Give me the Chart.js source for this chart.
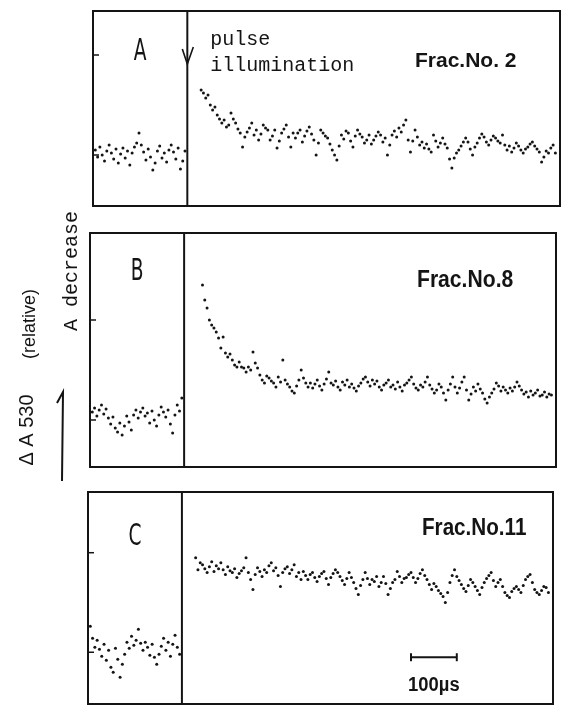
<!DOCTYPE html>
<html><head><meta charset="utf-8">
<script src="https://cdn.jsdelivr.net/npm/chart.js@4.4.0/dist/chart.umd.min.js"></script>
<style>
html,body{margin:0;padding:0;background:#fff;width:569px;height:710px;overflow:hidden;position:relative}
canvas.p{position:absolute;left:0}
</style></head><body>
<canvas id="cA" class="p" width="569" height="209" style="top:0px"></canvas>
<canvas id="cB" class="p" width="569" height="277" style="top:209px"></canvas>
<canvas id="cC" class="p" width="569" height="224" style="top:486px"></canvas>
<script>
// ---- data (time in µs, ΔA in relative units; 0 = pre-pulse level) ----
const SAMPLE_US = 5;
const TIME_MIN_US = -205, TIME_MAX_US = 810;
const preStartUs = -200;
const postStartA = 30, postStartB = 40, postStartC = 30;

const preA = [.05,-.02,.08,.00,-.06,.04,.10,.02,-.04,.06,-.08,.01,.07,-.03,.04,-.10,.02,.08,.12,.22,.10,.03,-.05,.06,-.02,-.15,-.08,.04,.09,-.03,.02,-.07,.05,.10,.03,-.04,.07,-.14,-.06,.04];
const postA = [.65,.62,.57,.60,.50,.45,.48,.40,.36,.32,
 .35,.28,.30,.42,.36,.32,.26,.22,.08,.18,
 .23,.27,.32,.20,.25,.15,.21,.30,.27,.25,
 .15,.19,.25,.07,.14,.22,.26,.30,.18,.08,
 .22,.17,.22,.25,.13,.19,.24,.28,.21,.15,
 .00,.12,.25,.22,.19,.17,.11,.05,.00,-.05,
 .09,.20,.16,.24,.22,.14,.08,.19,.25,.21,
 .18,.12,.15,.20,.11,.15,.19,.23,.20,.13,
 .17,.00,.10,.20,.24,.18,.27,.23,.30,.35,
 .15,.03,.14,.25,.18,.10,.13,.07,.11,.06,
 .03,.20,.14,.08,.12,.17,.11,.07,-.04,-.13,
 -.03,.02,.05,.09,.13,.17,.13,.06,.00,.08,
 .12,.17,.21,.18,.13,.10,.15,.19,.17,.14,
 .12,.20,.10,.05,.09,.03,.07,.12,.09,.05,
 .02,.06,.08,.11,.13,.09,.06,.03,-.07,-.02,
 .04,.02,.07,.10,.02];

const preB = [.08,.12,.04,.10,.15,.06,.11,.02,-.04,.03,-.08,-.12,-.03,-.15,-.06,.04,-.02,-.10,.05,.10,.02,.08,.12,.04,.07,-.03,.09,.00,-.06,.05,.13,.08,.03,.10,-.04,-.13,.05,.15,.09,.22];
const postB = [1.35,1.20,1.12,1.00,.95,.92,.88,.82,.72,.83,
 .67,.63,.66,.60,.55,.53,.58,.53,.52,.48,
 .53,.50,.68,.57,.52,.45,.40,.37,.44,.42,
 .39,.37,.33,.43,.38,.60,.40,.36,.33,.29,
 .27,.34,.40,.50,.42,.37,.33,.37,.32,.36,
 .40,.34,.30,.36,.41,.48,.37,.35,.39,.33,
 .30,.38,.35,.40,.33,.36,.32,.29,.34,.37,
 .41,.43,.38,.34,.40,.36,.39,.33,.30,.35,
 .37,.40,.33,.35,.31,.38,.33,.29,.35,.37,
 .40,.43,.36,.32,.30,.35,.33,.38,.43,.35,
 .31,.27,.30,.36,.33,.27,.20,.30,.36,.43,
 .33,.27,.32,.38,.43,.30,.20,.26,.33,.29,
 .36,.31,.27,.21,.17,.23,.27,.31,.37,.34,
 .29,.33,.30,.27,.32,.29,.33,.38,.34,.30,
 .26,.28,.23,.29,.25,.27,.30,.24,.25,.28,
 .23,.26,.25];

const preC = [.26,.14,.05,.12,.03,-.04,.08,-.08,.02,-.15,-.20,.04,-.07,-.25,-.12,-.02,.10,.04,.16,.07,.12,.23,.09,.02,.10,.05,-.03,.08,-.05,-.12,-.02,.06,.14,.02,.10,-.04,.08,.17,.05,-.02];
const postC = [.95,.83,.90,.88,.84,.80,.86,.91,.81,.87,
 .84,.90,.83,.78,.86,.82,.80,.84,.75,.79,
 .82,.85,.95,.80,.73,.63,.78,.85,.81,.76,
 .83,.80,.87,.90,.82,.85,.77,.66,.80,.84,
 .86,.79,.83,.88,.76,.80,.73,.81,.77,.73,
 .78,.80,.75,.71,.76,.79,.81,.74,.68,.75,
 .79,.83,.80,.76,.72,.68,.74,.80,.75,.70,
 .64,.58,.67,.73,.80,.74,.68,.73,.71,.76,
 .66,.70,.76,.69,.58,.64,.70,.73,.81,.76,
 .70,.74,.75,.78,.80,.75,.70,.74,.79,.83,
 .77,.73,.68,.63,.69,.66,.62,.59,.56,.50,
 .60,.70,.77,.83,.76,.72,.68,.64,.61,.67,
 .73,.70,.66,.62,.58,.65,.70,.74,.77,.80,
 .72,.66,.70,.73,.66,.60,.57,.55,.61,.64,
 .66,.63,.60,.67,.73,.76,.78,.70,.63,.60,
 .58,.62,.66,.65,.60];

const panelLetters = ['A','B','C'];
const fracLabels = ['Frac.No. 2','Frac.No.8','Frac.No.11'];
const levelTicks = [0, 1];
const scaleBarUs = [500, 600];
const scaleBarLevel = -0.05;
const scaleBarText = '100µs';
const pulseText = ['pulse','illumination'];
const yLabelMain = 'Δ A 530';
const yLabelRel = '(relative)';
const yLabelDir = 'A decrease';

// ---- drawing ----
const INK = '#141414';
function series(values, start){ return values.map((v,i)=>({x:start+i*SAMPLE_US, y:v})); }
function dots(values, start){
  return {type:'scatter', data:series(values,start), pointRadius:1.5, pointHoverRadius:1.5,
    pointStyle:'circle', backgroundColor:INK, borderWidth:0, showLine:false};
}

function makePanel(id, p){
  const canvas = document.getElementById(id);
  const datasets = [dots(p.pre, preStartUs), dots(p.post, p.postStart),
    {type:'line', data:[{x:0,y:p.yMin},{x:0,y:p.yMax}], borderColor:INK, borderWidth:2, pointRadius:0}];
  if (p.scaleBar){
    datasets.push({type:'line', data:scaleBarUs.map(t=>({x:t,y:scaleBarLevel})), borderColor:INK,
      borderWidth:2, pointStyle:'line', rotation:90, pointRadius:4, pointBorderColor:INK, pointBorderWidth:2});
  }
  const plugin = {
    id:'frame'+id,
    afterDatasetsDraw(chart){
      const {ctx, chartArea:a, scales:{x,y}} = chart;
      ctx.save();
      ctx.strokeStyle = INK; ctx.fillStyle = INK;
      ctx.lineWidth = 2;
      ctx.strokeRect(a.left, a.top, a.right-a.left, a.bottom-a.top);
      ctx.lineWidth = 1.5;
      levelTicks.forEach(v=>{ const py=y.getPixelForValue(v);
        ctx.beginPath(); ctx.moveTo(a.left,py); ctx.lineTo(a.left+6,py); ctx.stroke(); });
      const x0 = x.getPixelForValue(0);
      // panel letter
      ctx.save();
      ctx.translate((a.left+x0)/2, a.top+p.letterDy);
      ctx.scale(0.62,1);
      ctx.font = '30px "DejaVu Sans"'; ctx.textAlign='center'; ctx.textBaseline='alphabetic';
      ctx.fillText(p.letter, 0, 0);
      ctx.restore();
      // fraction label
      ctx.save();
      ctx.translate(p.fracX, a.top+p.fracDy);
      ctx.scale(p.fracScale,1);
      ctx.font = 'bold '+p.fracSize+'px "Liberation Sans"'; ctx.textAlign='left'; ctx.textBaseline='alphabetic';
      ctx.fillText(p.frac, 0, 0);
      ctx.restore();
      if (p.pulse){
        ctx.font = '20px "Liberation Mono"'; ctx.textAlign='left'; ctx.textBaseline='alphabetic';
        ctx.fillText(pulseText[0], x0+23, a.top+34);
        ctx.fillText(pulseText[1], x0+23, a.top+60);
        ctx.lineWidth = 1.6;
        ctx.beginPath(); ctx.moveTo(x0-5, a.top+38); ctx.lineTo(x0, a.top+53); ctx.lineTo(x0+6, a.top+36); ctx.stroke();
      }
      if (p.scaleBar){
        const cx = (x.getPixelForValue(scaleBarUs[0])+x.getPixelForValue(scaleBarUs[1]))/2;
        const py = y.getPixelForValue(scaleBarLevel);
        ctx.save(); ctx.translate(cx, py+34); ctx.scale(0.92,1);
        ctx.font = 'bold 20px "Liberation Sans"'; ctx.textAlign='center'; ctx.textBaseline='alphabetic';
        ctx.fillText(scaleBarText, 0, 0);
        ctx.restore();
      }
      if (p.yTitle){
        const off = p.canvasTop;
        ctx.textAlign='center'; ctx.textBaseline='middle';
        ctx.save(); ctx.translate(72, 271-off); ctx.rotate(-Math.PI/2);
        ctx.font = '20px "Liberation Mono"'; ctx.fillText(yLabelDir, 0, 0); ctx.restore();
        ctx.save(); ctx.translate(30, 324-off); ctx.rotate(-Math.PI/2);
        ctx.font = '18px "Liberation Sans"'; ctx.fillText(yLabelRel, 0, 0); ctx.restore();
        ctx.save(); ctx.translate(27, 430-off); ctx.rotate(-Math.PI/2);
        ctx.font = '20px "Liberation Sans"'; ctx.fillText(yLabelMain, 0, 0); ctx.restore();
        ctx.lineWidth = 2;
        ctx.beginPath(); ctx.moveTo(62, 481-off); ctx.lineTo(63, 392-off); ctx.lineTo(57, 403-off); ctx.stroke();
      }
      ctx.restore();
    }
  };
  return new Chart(canvas, {
    data:{datasets},
    options:{
      responsive:false, animation:false, events:[],
      layout:{padding:p.pad},
      plugins:{legend:{display:false}, tooltip:{enabled:false}},
      scales:{
        x:{type:'linear', min:TIME_MIN_US, max:TIME_MAX_US, display:false},
        y:{type:'linear', min:p.yMin, max:p.yMax, display:false}
      }
    },
    plugins:[plugin]
  });
}

makePanel('cA', {pre:preA, post:postA, postStart:postStartA, yMin:-0.51, yMax:1.44,
  pad:{left:93, right:9, top:11, bottom:3}, letter:panelLetters[0], letterDy:49,
  frac:fracLabels[0], fracX:415, fracDy:56, fracSize:21, fracScale:1.0, pulse:true, canvasTop:0});
makePanel('cB', {pre:preB, post:postB, postStart:postStartB, yMin:-0.47, yMax:1.87,
  pad:{left:90, right:13, top:24, bottom:19}, letter:panelLetters[1], letterDy:47,
  frac:fracLabels[1], fracX:417, fracDy:54, fracSize:24, fracScale:0.88, yTitle:true, canvasTop:209});
makePanel('cC', {pre:preC, post:postC, postStart:postStartC, yMin:-0.52, yMax:1.61,
  pad:{left:88, right:16, top:6, bottom:5}, letter:panelLetters[2], letterDy:53,
  frac:fracLabels[2], fracX:422, fracDy:43, fracSize:24, fracScale:0.86, scaleBar:true, canvasTop:486});
</script>
</body></html>
